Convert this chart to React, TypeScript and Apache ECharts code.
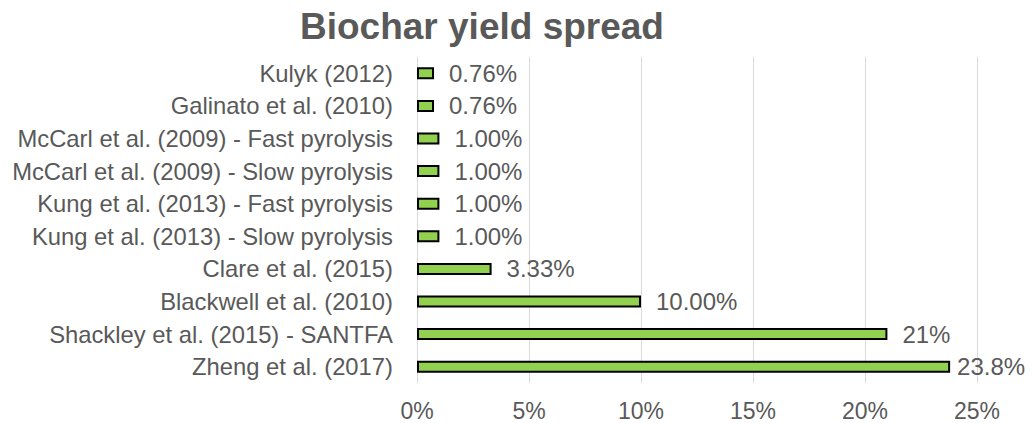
import React, { useEffect, useRef } from "react";
import * as echarts from "echarts";

const categories = [
  "Zheng et al. (2017)",
  "Shackley et al. (2015) - SANTFA",
  "Blackwell et al. (2010)",
  "Clare et al. (2015)",
  "Kung et al. (2013) - Slow pyrolysis",
  "Kung et al. (2013) - Fast pyrolysis",
  "McCarl et al. (2009) - Slow pyrolysis",
  "McCarl et al. (2009) - Fast pyrolysis",
  "Galinato et al. (2010)",
  "Kulyk (2012)",
];
const values = [23.8, 21, 10, 3.33, 1, 1, 1, 1, 0.76, 0.76];
const labels = ["23.8%", "21%", "10.00%", "3.33%", "1.00%", "1.00%", "1.00%", "1.00%", "0.76%", "0.76%"];

const FONT = "'Liberation Sans', Arial, sans-serif";

export default function App() {
  const ref = useRef<HTMLDivElement>(null);
  useEffect(() => {
    const chart = echarts.init(ref.current!, null, { renderer: "svg" });
    chart.setOption({
      animation: false,
      title: {
        text: "Biochar yield spread",
        left: 295,
        top: 3,
        textStyle: { fontFamily: FONT, fontSize: 37, fontWeight: "bold", color: "#595959" },
      },
      grid: { left: 417, right: 55, top: 57, bottom: 40, containLabel: false },
      xAxis: {
        type: "value",
        min: 0,
        max: 25,
        interval: 5,
        axisLine: { show: false },
        axisTick: { show: false },
        splitLine: { show: true, lineStyle: { color: "#d9d9d9", width: 1 } },
        axisLabel: {
          formatter: (v: number) => v + "%",
          fontFamily: FONT,
          fontSize: 23,
          color: "#595959",
          margin: 16,
        },
      },
      yAxis: {
        type: "category",
        data: categories,
        axisLine: { show: false },
        axisTick: { show: false },
        axisLabel: {
          fontFamily: FONT,
          fontSize: 23.8,
          color: "#595959",
          margin: 24,
        },
      },
      series: [
        {
          type: "bar",
          data: values.map((v, i) => ({
            value: v,
            label: { distance: i === 0 ? 7 : 15 },
          })),
          barWidth: 12,
          itemStyle: { color: "#92D050", borderColor: "#000", borderWidth: 2 },
          label: {
            show: true,
            position: "right",
            formatter: (p: any) => labels[p.dataIndex],
            fontFamily: FONT,
            fontSize: 24,
            color: "#595959",
          },
        },
      ],
    });
    return () => chart.dispose();
  }, []);
  return (
    <div
      ref={ref}
      style={{ position: "absolute", left: 0, top: 0, width: 1032, height: 423 }}
    />
  );
}
